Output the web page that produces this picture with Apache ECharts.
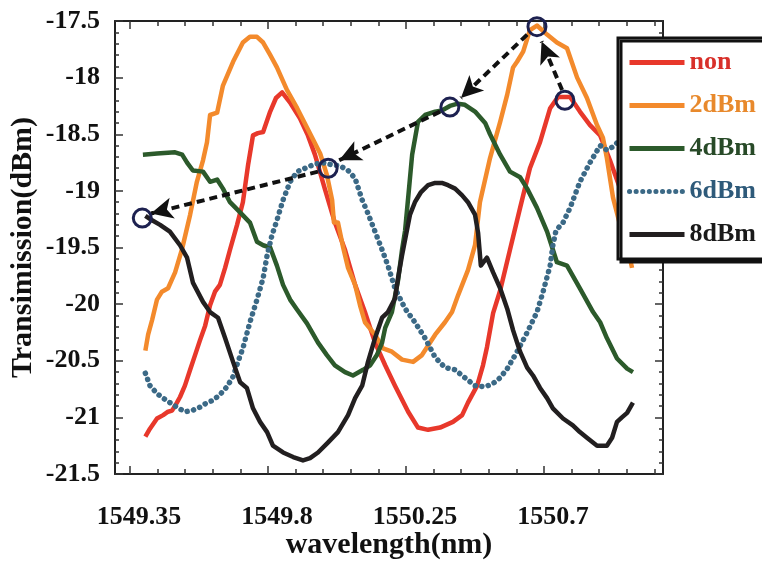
<!DOCTYPE html>
<html>
<head>
<meta charset="utf-8">
<script src="https://cdn.jsdelivr.net/npm/echarts@6/dist/echarts.min.js"></script>
<style>
  html, body { margin: 0; padding: 0; background: #fff; }
  #chart { width: 762px; height: 561px; }
</style>
</head>
<body>
<div id="chart"></div>
<script>
// wavelength (nm), transmission (dBm)
const nonPts = [
  [1549.40, -21.17], [1549.415, -21.10], [1549.438, -21.01], [1549.458, -20.98], [1549.474, -20.95],
  [1549.487, -20.94], [1549.503, -20.87], [1549.513, -20.82], [1549.529, -20.72], [1549.546, -20.58],
  [1549.562, -20.45], [1549.578, -20.32], [1549.595, -20.19], [1549.611, -20.01], [1549.627, -19.89],
  [1549.643, -19.83], [1549.660, -19.68], [1549.676, -19.52], [1549.699, -19.30], [1549.718, -19.10],
  [1549.735, -18.77], [1549.751, -18.51], [1549.767, -18.49], [1549.784, -18.48], [1549.807, -18.30],
  [1549.826, -18.18], [1549.846, -18.13], [1549.872, -18.22], [1549.904, -18.36], [1549.930, -18.51],
  [1549.953, -18.68], [1549.986, -18.99], [1550.018, -19.28], [1550.051, -19.52], [1550.084, -19.83],
  [1550.116, -20.07], [1550.149, -20.34], [1550.182, -20.54], [1550.214, -20.72], [1550.257, -20.95],
  [1550.289, -21.09], [1550.322, -21.11], [1550.361, -21.09], [1550.403, -21.04], [1550.433, -20.98],
  [1550.452, -20.87], [1550.482, -20.72], [1550.501, -20.54], [1550.514, -20.38], [1550.534, -20.08],
  [1550.557, -19.88], [1550.589, -19.52], [1550.622, -19.15], [1550.654, -18.80], [1550.687, -18.57],
  [1550.720, -18.27], [1550.746, -18.17], [1550.785, -18.17], [1550.817, -18.30], [1550.850, -18.42],
  [1550.883, -18.51], [1550.915, -18.73], [1550.948, -18.98], [1550.990, -19.30]
];
const dbm2Pts = [
  [1549.40, -20.41], [1549.409, -20.27], [1549.422, -20.14], [1549.438, -19.96], [1549.454, -19.89],
  [1549.474, -19.86], [1549.497, -19.72], [1549.520, -19.51], [1549.546, -19.21], [1549.568, -18.92],
  [1549.588, -18.73], [1549.601, -18.57], [1549.611, -18.33], [1549.634, -18.31], [1549.653, -18.07],
  [1549.686, -17.86], [1549.718, -17.69], [1549.741, -17.64], [1549.764, -17.64], [1549.784, -17.69],
  [1549.807, -17.80], [1549.829, -17.91], [1549.862, -18.11], [1549.895, -18.27], [1549.927, -18.44],
  [1549.970, -18.67], [1549.992, -18.86], [1550.009, -19.08], [1550.015, -19.28], [1550.028, -19.28],
  [1550.045, -19.50], [1550.061, -19.68], [1550.084, -19.83], [1550.100, -20.01], [1550.116, -20.16],
  [1550.149, -20.27], [1550.175, -20.39], [1550.204, -20.42], [1550.237, -20.49], [1550.273, -20.51],
  [1550.302, -20.45], [1550.345, -20.27], [1550.377, -20.16], [1550.400, -20.07], [1550.420, -19.92],
  [1550.436, -19.81], [1550.452, -19.70], [1550.475, -19.48], [1550.491, -19.10], [1550.524, -18.71],
  [1550.557, -18.39], [1550.580, -18.15], [1550.599, -17.91], [1550.612, -17.86], [1550.632, -17.77],
  [1550.654, -17.58], [1550.677, -17.54], [1550.710, -17.62], [1550.742, -17.69], [1550.775, -17.74],
  [1550.808, -18.00], [1550.840, -18.18], [1550.873, -18.42], [1550.892, -18.53], [1550.905, -18.71],
  [1550.925, -19.06], [1550.948, -19.30], [1550.971, -19.48], [1550.987, -19.68]
];
const dbm4Pts = [
  [1549.392, -18.68], [1549.438, -18.67], [1549.497, -18.66], [1549.520, -18.68], [1549.536, -18.75],
  [1549.555, -18.82], [1549.588, -18.83], [1549.611, -18.92], [1549.634, -18.90], [1549.653, -18.98],
  [1549.676, -19.10], [1549.709, -19.19], [1549.741, -19.28], [1549.764, -19.45], [1549.784, -19.48],
  [1549.807, -19.50], [1549.829, -19.66], [1549.849, -19.83], [1549.872, -19.96], [1549.895, -20.05],
  [1549.927, -20.17], [1549.963, -20.34], [1549.992, -20.45], [1550.018, -20.54], [1550.051, -20.60],
  [1550.077, -20.63], [1550.110, -20.58], [1550.133, -20.54], [1550.155, -20.45], [1550.172, -20.34],
  [1550.182, -20.21], [1550.204, -20.07], [1550.224, -19.79], [1550.237, -19.52], [1550.247, -19.35],
  [1550.257, -19.06], [1550.270, -18.68], [1550.289, -18.39], [1550.312, -18.33], [1550.345, -18.30],
  [1550.367, -18.29], [1550.393, -18.25], [1550.419, -18.23], [1550.442, -18.24], [1550.475, -18.30],
  [1550.508, -18.40], [1550.524, -18.50], [1550.557, -18.68], [1550.589, -18.83], [1550.622, -18.88],
  [1550.645, -18.98], [1550.677, -19.15], [1550.710, -19.36], [1550.729, -19.52], [1550.742, -19.63],
  [1550.775, -19.66], [1550.817, -19.86], [1550.860, -20.07], [1550.883, -20.16], [1550.905, -20.30],
  [1550.938, -20.48], [1550.971, -20.57], [1550.990, -20.60]
];
const dbm6Pts = [
  [1549.40, -20.61], [1549.415, -20.72], [1549.438, -20.79], [1549.458, -20.83], [1549.480, -20.87],
  [1549.503, -20.91], [1549.529, -20.95], [1549.552, -20.94], [1549.578, -20.91], [1549.601, -20.87],
  [1549.620, -20.85], [1549.643, -20.80], [1549.666, -20.73], [1549.686, -20.64], [1549.702, -20.51],
  [1549.718, -20.39], [1549.741, -20.16], [1549.764, -19.96], [1549.784, -19.77], [1549.797, -19.57],
  [1549.813, -19.39], [1549.829, -19.26], [1549.849, -19.08], [1549.872, -18.92], [1549.895, -18.83],
  [1549.921, -18.80], [1549.947, -18.77], [1549.976, -18.75], [1550.009, -18.77], [1550.035, -18.78],
  [1550.061, -18.82], [1550.084, -18.89], [1550.107, -19.08], [1550.126, -19.20], [1550.149, -19.36],
  [1550.172, -19.52], [1550.191, -19.66], [1550.214, -19.86], [1550.247, -20.04], [1550.279, -20.16],
  [1550.312, -20.30], [1550.345, -20.47], [1550.377, -20.56], [1550.410, -20.58], [1550.442, -20.65],
  [1550.475, -20.72], [1550.508, -20.73], [1550.534, -20.70], [1550.557, -20.65], [1550.580, -20.57],
  [1550.612, -20.42], [1550.645, -20.25], [1550.677, -20.07], [1550.697, -19.89], [1550.720, -19.66],
  [1550.729, -19.48], [1550.739, -19.35], [1550.762, -19.28], [1550.785, -19.15], [1550.817, -18.92],
  [1550.850, -18.75], [1550.883, -18.60], [1550.905, -18.64], [1550.925, -18.61], [1550.948, -18.55],
  [1550.971, -18.53], [1550.990, -18.51]
];
const dbm8Pts = [
  [1549.40, -19.22], [1549.422, -19.26], [1549.448, -19.30], [1549.480, -19.36], [1549.513, -19.48],
  [1549.536, -19.59], [1549.555, -19.81], [1549.588, -19.98], [1549.611, -20.07], [1549.637, -20.12],
  [1549.660, -20.30], [1549.686, -20.51], [1549.709, -20.69], [1549.731, -20.74], [1549.751, -20.92],
  [1549.774, -21.04], [1549.797, -21.13], [1549.816, -21.25], [1549.849, -21.31], [1549.882, -21.35],
  [1549.914, -21.38], [1549.937, -21.36], [1549.963, -21.31], [1549.996, -21.22], [1550.028, -21.13],
  [1550.061, -20.98], [1550.084, -20.83], [1550.107, -20.72], [1550.126, -20.51], [1550.149, -20.30],
  [1550.172, -20.12], [1550.191, -20.07], [1550.214, -19.95], [1550.224, -19.77], [1550.237, -19.57],
  [1550.247, -19.43], [1550.263, -19.21], [1550.279, -19.10], [1550.299, -19.01], [1550.322, -18.95],
  [1550.345, -18.93], [1550.367, -18.93], [1550.387, -18.95], [1550.410, -18.98], [1550.433, -19.04],
  [1550.452, -19.10], [1550.475, -19.21], [1550.485, -19.37], [1550.494, -19.66], [1550.514, -19.59],
  [1550.534, -19.72], [1550.557, -19.86], [1550.580, -20.04], [1550.599, -20.23], [1550.622, -20.42],
  [1550.645, -20.56], [1550.664, -20.63], [1550.687, -20.74], [1550.710, -20.83], [1550.729, -20.92],
  [1550.762, -21.01], [1550.794, -21.07], [1550.817, -21.13], [1550.840, -21.18], [1550.873, -21.25],
  [1550.905, -21.25], [1550.922, -21.18], [1550.938, -21.04], [1550.954, -21.00], [1550.971, -20.96],
  [1550.990, -20.87]
];

const seriesNames = ['non', '2dBm', '4dBm', '6dBm', '8dBm'];
const xMajorTicks = [1549.35, 1549.8, 1550.25, 1550.7];
const xMinorTicks = [1549.35, 1549.44, 1549.53, 1549.62, 1549.71, 1549.80, 1549.89, 1549.98, 1550.07,
  1550.16, 1550.25, 1550.34, 1550.43, 1550.52, 1550.61, 1550.70, 1550.79, 1550.88, 1550.97, 1551.06];

// circled peaks and the arrows chaining them (non -> 2dBm -> 4dBm -> 6dBm -> 8dBm)
const peakMarks = [[1550.768, -18.20], [1550.677, -17.55], [1550.393, -18.26], [1549.996, -18.80], [1549.39, -19.24]];
const arrowLines = [
  [[1550.759, -18.11], [1550.692, -17.68]],
  [[1550.645, -17.62], [1550.429, -18.18]],
  [[1550.361, -18.30], [1550.032, -18.73]],
  [[1549.963, -18.83], [1549.418, -19.20]]
];

const colors = ['#e8382b', '#f38a2c', '#2c5a2b', '#3b6986', '#221f20'];
const textColors = ['#d8302a', '#e8892c', '#284a28', '#2e5a7a', '#1a1a1a'];
const FONT = 'Liberation Serif';

const chart = echarts.init(document.getElementById('chart'));

const tickStyle = { color: '#333', width: 1.5 };
const xBase = {
  type: 'value',
  min: 1549.301,
  max: 1551.088,
  splitLine: { show: false },
  axisLine: { show: true, onZero: false, lineStyle: { color: '#222', width: 2 } }
};

function xAxisAt(pos, major) {
  const ax = Object.assign({}, xBase, {
    position: pos,
    axisTick: { show: true, inside: true, length: major ? 8 : 5, customValues: major ? xMajorTicks : xMinorTicks, lineStyle: tickStyle },
    axisLabel: { show: false }
  });
  if (!major) ax.axisLine = { show: false };
  return ax;
}

function yAxisAt(pos) {
  return {
    type: 'value',
    position: pos,
    min: -21.5,
    max: -17.5,
    interval: 0.5,
    splitLine: { show: false },
    axisLine: { show: true, onZero: false, lineStyle: { color: '#222', width: 2 } },
    axisTick: { show: true, inside: true, length: 8, lineStyle: tickStyle },
    minorTick: { show: true, splitNumber: 5, length: 4, lineStyle: tickStyle },
    axisLabel: { show: false }
  };
}

const bottomX = xAxisAt('bottom', true);
bottomX.name = 'wavelength(nm)';
bottomX.nameLocation = 'middle';
bottomX.nameGap = 56;
bottomX.nameMoveOverlap = false;
bottomX.nameTextStyle = { fontFamily: FONT, fontWeight: 'bold', fontSize: 30, color: '#111' };
bottomX.axisLabel = {
  customValues: xMajorTicks, margin: 30, padding: [0, 0, 0, 18],
  fontFamily: FONT, fontWeight: 'bold', fontSize: 26, color: '#111',
  formatter: v => String(v)
};

const leftY = yAxisAt('left');
leftY.name = 'Transimission(dBm)';
leftY.nameLocation = 'middle';
leftY.nameGap = 77;
leftY.nameMoveOverlap = false;
leftY.nameTextStyle = { fontFamily: FONT, fontWeight: 'bold', fontSize: 30, color: '#111' };
leftY.axisLabel = {
  margin: 15, fontFamily: FONT, fontWeight: 'bold', fontSize: 26, color: '#111',
  formatter: v => String(v)
};

const option = {
  backgroundColor: '#fff',
  animation: false,
  grid: { left: 115, right: 99, top: 21, bottom: 87, outerBoundsMode: 'none', containLabel: false },
  legend: {
    data: seriesNames.map((n, i) => ({ name: n, textStyle: { color: textColors[i] } })),
    orient: 'vertical',
    left: 618,
    top: 38,
    itemWidth: 55,
    itemHeight: 14,
    itemGap: 16,
    padding: [11, 10, 11, 9],
    itemStyle: { opacity: 0 },
    lineStyle: { width: 5 },
    backgroundColor: '#fff',
    borderColor: '#111',
    borderWidth: 3,
    borderRadius: 0,
    shadowColor: '#111',
    shadowOffsetX: 3,
    shadowOffsetY: 3,
    shadowBlur: 0,
    textStyle: { fontFamily: FONT, fontWeight: 'bold', fontSize: 26, lineHeight: 27 }
  },
  xAxis: [bottomX, xAxisAt('bottom', false), xAxisAt('top', true), xAxisAt('top', false)],
  yAxis: [leftY, yAxisAt('right')],
  series: [
    { name: 'non', data: nonPts, color: colors[0] },
    { name: '2dBm', data: dbm2Pts, color: colors[1] },
    { name: '4dBm', data: dbm4Pts, color: colors[2] },
    { name: '6dBm', data: dbm6Pts, color: colors[3], dotted: true },
    { name: '8dBm', data: dbm8Pts, color: colors[4] }
  ].map(s => ({
    name: s.name,
    type: 'line',
    data: s.data,
    symbol: 'none',
    showSymbol: false,
    itemStyle: { color: s.color },
    lineStyle: s.dotted
      ? { color: s.color, width: 5.5, type: [0.1, 6.5], cap: 'round' }
      : { color: s.color, width: 4.5, join: 'round' }
  })).concat([{
    name: 'marks',
    type: 'line',
    data: [],
    z: 5,
    silent: true,
    markLine: {
      silent: true,
      symbol: ['none', 'arrow'],
      symbolSize: [16, 22],
      label: { show: false },
      lineStyle: { color: '#111', width: 4, type: [8, 5] },
      data: arrowLines.map(l => [{ coord: l[0] }, { coord: l[1] }])
    },
    markPoint: {
      silent: true,
      symbol: 'circle',
      symbolSize: 18,
      label: { show: false },
      itemStyle: { color: 'rgba(0,0,0,0)', borderColor: '#1d2150', borderWidth: 3 },
      data: peakMarks.map(p => ({ coord: p }))
    }
  }])
};

chart.setOption(option);
</script>
</body>
</html>
